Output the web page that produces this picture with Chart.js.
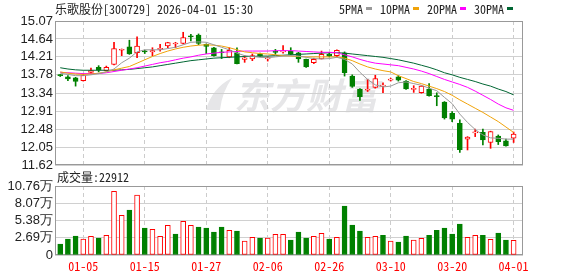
<!DOCTYPE html>
<html>
<head>
<meta charset="utf-8">
<script src="https://cdn.jsdelivr.net/npm/chart.js@4.4.1/dist/chart.umd.min.js"></script>
<style>
  html, body { margin: 0; padding: 0; background: #fff; }
  #wrap { position: relative; width: 578px; height: 276px; overflow: hidden; }
  canvas { position: absolute; left: 0; }
  #price-chart { top: 0; }
  #volume-chart { top: 166px; }
</style>
</head>
<body>
<div id="wrap">
  <canvas id="price-chart" width="578" height="176"></canvas>
  <canvas id="volume-chart" width="578" height="110"></canvas>
</div>
<script>
// trading days shown
const dates = [
	"12-29", "12-30", "12-31", "01-05", "01-06", "01-07", "01-08", "01-09", "01-12", "01-13",
	"01-14", "01-15", "01-16", "01-19", "01-20", "01-21", "01-22", "01-23", "01-26", "01-27",
	"01-28", "01-29", "01-30", "02-02", "02-03", "02-04", "02-05", "02-06", "02-09", "02-10",
	"02-11", "02-12", "02-13", "02-24", "02-25", "02-26", "02-27", "03-02", "03-03", "03-04",
	"03-05", "03-06", "03-09", "03-10", "03-11", "03-12", "03-13", "03-16", "03-17", "03-18",
	"03-19", "03-20", "03-23", "03-24", "03-25", "03-26", "03-27", "03-30", "03-31", "04-01"
];

const open = [
	13.77, 13.73, 13.71, 13.64, 13.84, 13.96, 13.88, 14.03, 14.37, 14.45,
	14.31, 14.34, 14.33, 14.39, 14.47, 14.52, 14.53, 14.70, 14.73, 14.51,
	14.43, 14.32, 14.21, 14.31, 14.15, 14.16, 14.28, 14.16, 14.33, 14.33,
	14.35, 14.31, 14.15, 14.07, 14.16, 14.28, 14.24, 14.31, 13.75, 13.43,
	13.41, 13.48, 13.51, 13.65, 13.73, 13.63, 13.43, 13.35, 13.44, 13.27,
	13.13, 12.86, 12.62, 12.24, 12.39, 12.40, 12.16, 12.31, 12.20, 12.26
];
const high = [
	13.79, 13.76, 13.72, 13.80, 13.94, 14.00, 13.99, 14.56, 14.40, 14.61,
	14.69, 14.37, 14.43, 14.51, 14.56, 14.56, 14.80, 14.75, 14.76, 14.52,
	14.44, 14.39, 14.43, 14.43, 14.24, 14.28, 14.30, 14.21, 14.39, 14.48,
	14.43, 14.32, 14.16, 14.18, 14.35, 14.31, 14.38, 14.33, 13.78, 13.45,
	13.67, 13.77, 13.59, 13.70, 13.76, 13.64, 13.52, 13.52, 13.57, 13.35,
	13.14, 12.90, 12.70, 12.30, 12.48, 12.48, 12.43, 12.34, 12.24, 12.41
];
const low = [
	13.74, 13.64, 13.51, 13.63, 13.80, 13.85, 13.87, 14.02, 14.24, 14.27,
	14.19, 14.29, 14.24, 14.35, 14.43, 14.43, 14.52, 14.59, 14.50, 14.29,
	14.23, 14.17, 14.19, 14.04, 14.08, 14.12, 14.22, 14.11, 14.27, 14.30,
	14.26, 14.08, 13.96, 14.05, 14.16, 14.21, 14.21, 13.75, 13.48, 13.17,
	13.38, 13.46, 13.35, 13.63, 13.63, 13.43, 13.36, 13.34, 13.27, 13.04,
	12.72, 12.66, 11.92, 11.98, 12.30, 12.10, 12.02, 12.11, 12.07, 12.16
];
const close = [
	13.76, 13.68, 13.62, 13.77, 13.88, 13.89, 13.96, 14.41, 14.39, 14.28,
	14.47, 14.33, 14.36, 14.41, 14.55, 14.53, 14.67, 14.69, 14.53, 14.46,
	14.24, 14.31, 14.37, 14.05, 14.19, 14.24, 14.23, 14.19, 14.32, 14.35,
	14.27, 14.16, 13.97, 14.15, 14.27, 14.23, 14.37, 13.83, 13.50, 13.26,
	13.43, 13.69, 13.52, 13.68, 13.65, 13.44, 13.45, 13.51, 13.28, 13.26,
	12.75, 12.72, 11.99, 12.29, 12.40, 12.22, 12.42, 12.18, 12.08, 12.36
];

const ma5 = [
	13.82, 13.79, 13.76, 13.76, 13.78, 13.81, 13.85, 13.92, 14.07, 14.18,
	14.33, 14.38, 14.38, 14.38, 14.41, 14.44, 14.50, 14.56, 14.57, 14.56,
	14.50, 14.44, 14.38, 14.30, 14.24, 14.22, 14.20, 14.19, 14.21, 14.23,
	14.24, 14.23, 14.20, 14.17, 14.16, 14.17, 14.20, 14.15, 14.04, 13.84,
	13.67, 13.54, 13.49, 13.51, 13.59, 13.61, 13.57, 13.53, 13.46, 13.40,
	13.24, 13.09, 12.84, 12.64, 12.47, 12.34, 12.27, 12.26, 12.24, 12.24
];
const ma10 = [
	13.85, 13.82, 13.80, 13.79, 13.80, 13.82, 13.85, 13.90, 13.94, 13.98,
	14.06, 14.14, 14.22, 14.29, 14.35, 14.40, 14.44, 14.47, 14.49, 14.50,
	14.49, 14.47, 14.43, 14.38, 14.33, 14.31, 14.29, 14.28, 14.26, 14.24,
	14.23, 14.22, 14.21, 14.21, 14.21, 14.21, 14.21, 14.18, 14.12, 14.04,
	13.97, 13.92, 13.88, 13.85, 13.76, 13.69, 13.62, 13.57, 13.51, 13.45,
	13.38, 13.29, 13.18, 13.08, 12.98, 12.88, 12.77, 12.66, 12.53, 12.40
];
const ma20 = [
	13.84, 13.83, 13.82, 13.81, 13.81, 13.81, 13.83, 13.86, 13.89, 13.92,
	13.95, 13.99, 14.03, 14.07, 14.10, 14.14, 14.18, 14.21, 14.25, 14.28,
	14.30, 14.32, 14.33, 14.34, 14.35, 14.35, 14.35, 14.35, 14.36, 14.36,
	14.36, 14.35, 14.34, 14.33, 14.32, 14.32, 14.31, 14.26, 14.21, 14.15,
	14.10, 14.06, 14.04, 14.02, 14.00, 13.96, 13.92, 13.87, 13.81, 13.74,
	13.67, 13.61, 13.55, 13.48, 13.39, 13.29, 13.19, 13.08, 12.99, 12.93
];
const ma30 = [
	13.95, 13.92, 13.90, 13.89, 13.89, 13.89, 13.89, 13.89, 13.90, 13.91,
	13.93, 13.95, 13.97, 14.00, 14.03, 14.06, 14.09, 14.12, 14.14, 14.16,
	14.18, 14.19, 14.20, 14.21, 14.22, 14.22, 14.23, 14.23, 14.24, 14.25,
	14.26, 14.27, 14.28, 14.29, 14.30, 14.31, 14.31, 14.30, 14.28, 14.26,
	14.24, 14.22, 14.20, 14.17, 14.14, 14.10, 14.06, 14.01, 13.96, 13.90,
	13.83, 13.78, 13.72, 13.67, 13.62, 13.56, 13.51, 13.44, 13.38, 13.30
];

const volume = [
	17200, 25000, 29600, 25000, 29100, 26500, 30700, 99300, 61900, 70200,
	93600, 42100, 40000, 29100, 46300, 32700, 52500, 46300, 43700, 42100,
	35900, 43700, 38500, 37400, 21800, 27500, 26500, 26500, 32200, 32200,
	23400, 35900, 26500, 29100, 33800, 25000, 27500, 76400, 46800, 37400,
	27500, 29100, 30700, 21800, 20300, 29600, 23400, 26000, 30700, 38500,
	42100, 32700, 48300, 27500, 30700, 30700, 24400, 34300, 23400, 22912
];
// 1 = red (up) volume bar, 0 = green
const volUp = [
	0, 0, 0, 1, 1, 0, 1, 1, 1, 0,
	1, 0, 1, 1, 1, 0, 1, 1, 0, 0,
	0, 0, 1, 0, 1, 1, 0, 1, 1, 1,
	0, 0, 0, 1, 1, 0, 1, 0, 0, 0,
	1, 1, 0, 1, 0, 0, 1, 1, 0, 0,
	0, 0, 0, 1, 1, 0, 1, 0, 0, 1
];

const priceTicks = [11.62, 12.05, 12.48, 12.91, 13.34, 13.78, 14.21, 14.64, 15.07];
const volTicks = [0, 26900, 53800, 80700, 107600];
const dateTickIdx = [3, 11, 19, 27, 35, 43, 51, 59];

const RED = "#ff0000";
const GREEN = "#008000";
const MONO = "'Noto Sans Mono CJK SC', 'Noto Sans CJK SC', monospace";
const SANS = "Arial, 'Liberation Sans', sans-serif";
const X_MIN = -0.68;
const X_MAX = 60.22;

const isUp = (i) => close[i] >= open[i];

const frame = {
	id: "frame",
	beforeDatasetsDraw(chart) {
		const a = chart.chartArea;
		const ctx = chart.ctx;
		ctx.save();
		ctx.strokeStyle = "#999";
		ctx.lineWidth = 1;
		ctx.strokeRect(a.left + 0.5, a.top + 0.5, a.right - a.left - 1, a.bottom - a.top - 1);
		ctx.restore();
	}
};

const priceText = {
	id: "priceText",
	beforeDraw(chart) {
		const ctx = chart.ctx;
		ctx.save();
		ctx.fillStyle = "#e6e6e8";
		ctx.font = "italic bold 36px 'Noto Sans CJK SC', sans-serif";
		ctx.textBaseline = "middle";
		ctx.fillText("东方财富", 234, 95);
		// logo swoosh
		ctx.beginPath();
		ctx.moveTo(206, 110);
		ctx.quadraticCurveTo(212, 88, 232, 78);
		ctx.quadraticCurveTo(222, 92, 220, 110);
		ctx.closePath();
		ctx.fill();
		ctx.restore();
	},
	afterDraw(chart) {
		const ctx = chart.ctx;
		ctx.save();
		ctx.font = "12px " + MONO;
		ctx.textBaseline = "middle";
		ctx.fillStyle = "#222";
		ctx.fillText("乐歌股份[300729] 2026-04-01 15:30", 55, 9);
		const items = [["5PMA", "#999999"], ["10PMA", "#f0a30a"], ["20PMA", "#ff00ff"], ["30PMA", "#006633"]];
		let x = 339;
		items.forEach(([t, c]) => {
			ctx.fillStyle = "#222";
			ctx.fillText(t, x, 9);
			x += ctx.measureText(t).width + 3;
			ctx.fillStyle = c;
			ctx.fillRect(x, 7, 6, 3);
			x += 14;
		});
		ctx.restore();
	}
};

const volText = {
	id: "volText",
	afterDraw(chart) {
		const ctx = chart.ctx;
		ctx.save();
		ctx.font = "12px " + MONO;
		ctx.textBaseline = "middle";
		ctx.fillStyle = "#222";
		ctx.fillText("成交量:" + volume[volume.length - 1], 57, 11);
		ctx.restore();
	}
};

const idx = dates.map((d, i) => i);

const maLine = (arr, color) => ({
	type: "line",
	data: arr.map((v, i) => ({ x: i, y: v })),
	borderColor: color,
	borderWidth: 1,
	pointRadius: 0,
	tension: 0,
	fill: false,
	order: 0
});

const xGrid = {
	type: "linear",
	min: X_MIN,
	max: X_MAX,
	offset: false,
	afterBuildTicks: (s) => { s.ticks = dateTickIdx.map(v => ({ value: v })); },
	grid: { color: "#cccccc", drawTicks: false, offset: false },
	border: { display: false, dash: [4, 3] }
};

const priceChart = new Chart(document.getElementById("price-chart").getContext("2d"), {
	type: "bar",
	data: {
		datasets: [
			{
				data: idx.map(i => ({ x: i, y: [low[i], high[i]] })),
				backgroundColor: idx.map(i => isUp(i) ? RED : GREEN),
				borderWidth: 0,
				barThickness: 1,
				grouped: false,
				order: 2
			},
			{
				data: idx.map(i => ({ x: i, y: [open[i], close[i]] })),
				backgroundColor: idx.map(i => isUp(i) ? "#ffffff" : GREEN),
				borderColor: idx.map(i => isUp(i) ? RED : GREEN),
				borderWidth: 1,
				borderSkipped: false,
				minBarLength: 1,
				barThickness: 5,
				grouped: false,
				order: 1
			},
			maLine(ma5, "#999999"),
			maLine(ma10, "#f0a30a"),
			maLine(ma20, "#ff00ff"),
			maLine(ma30, "#006633")
		]
	},
	options: {
		responsive: false,
		animation: false,
		devicePixelRatio: 1,
		events: [],
		layout: { padding: { top: 21, bottom: 11, left: 0, right: 55 } },
		plugins: { legend: { display: false }, tooltip: { enabled: false } },
		scales: {
			x: Object.assign({}, xGrid, {
				ticks: { display: false },
				afterFit: (s) => { s.height = 0; }
			}),
			y: {
				min: priceTicks[0],
				max: priceTicks[priceTicks.length - 1],
				afterBuildTicks: (s) => { s.ticks = priceTicks.map(v => ({ value: v })); },
				afterFit: (s) => { s.width = 55; },
				ticks: {
					callback: (v) => v.toFixed(2),
					autoSkip: false,
					color: "#222",
					padding: 2,
					font: { family: SANS, size: 13 }
				},
				grid: { color: "#d0d0d0", drawTicks: false },
				border: { display: false }
			}
		}
	},
	plugins: [priceText, frame]
});

const volumeChart = new Chart(document.getElementById("volume-chart").getContext("2d"), {
	type: "bar",
	data: {
		datasets: [
			{
				data: idx.map(i => ({ x: i, y: volume[i] })),
				backgroundColor: idx.map(i => volUp[i] ? "#ffffff" : GREEN),
				borderColor: idx.map(i => volUp[i] ? RED : GREEN),
				borderWidth: 1,
				borderSkipped: false,
				barThickness: 5,
				grouped: false
			}
		]
	},
	options: {
		responsive: false,
		animation: false,
		devicePixelRatio: 1,
		events: [],
		layout: { padding: { top: 20, bottom: 0, left: 0, right: 55 } },
		plugins: { legend: { display: false }, tooltip: { enabled: false } },
		scales: {
			x: Object.assign({}, xGrid, {
				ticks: {
					callback: (v) => dates[v],
					color: RED,
					padding: 4,
					maxRotation: 0,
					autoSkip: false,
					font: { family: MONO, size: 12 }
				},
				afterFit: (s) => { s.height = 21; }
			}),
			y: {
				min: volTicks[0],
				max: volTicks[volTicks.length - 1],
				afterBuildTicks: (s) => { s.ticks = volTicks.map(v => ({ value: v })); },
				afterFit: (s) => { s.width = 55; },
				ticks: {
					callback: (v) => v === 0 ? "0" : (v / 10000).toFixed(2) + "万",
					autoSkip: false,
					color: "#222",
					padding: 2,
					font: { family: SANS, size: 13 }
				},
				grid: { color: "#d0d0d0", drawTicks: false },
				border: { display: false }
			}
		}
	},
	plugins: [volText, frame]
});
</script>
</body>
</html>
